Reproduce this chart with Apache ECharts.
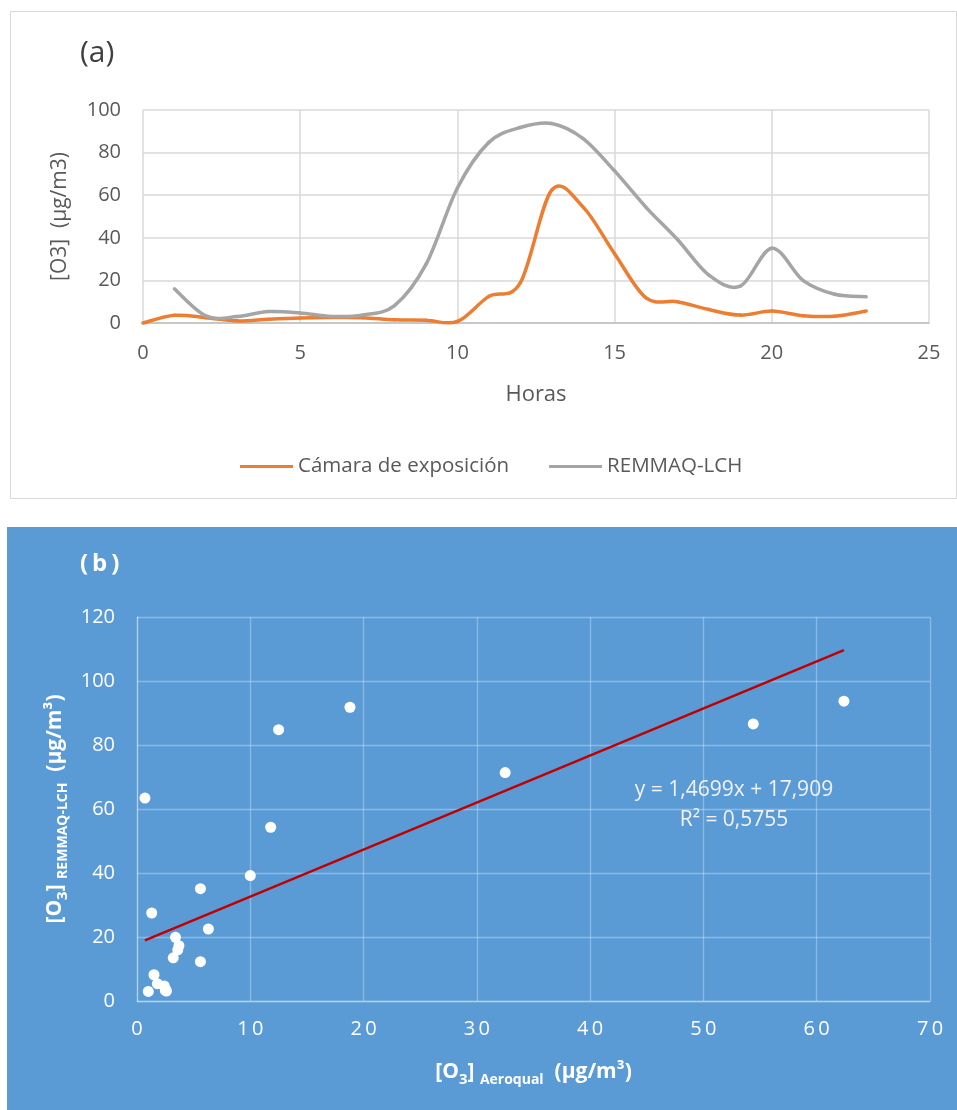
<!DOCTYPE html>
<html lang="es">
<head>
<meta charset="UTF-8">
<title>O3</title>
<script src="https://cdn.jsdelivr.net/npm/echarts@6/dist/echarts.min.js"></script>
<style>
  body{margin:0;background:#fff;}
  #panelA{position:absolute;left:10px;top:11px;width:947px;height:488px;}
  #panelB{position:absolute;left:7px;top:527px;width:950px;height:583px;background:#5b9bd5;}
</style>
</head>
<body>
<div id="panelA"></div>
<div id="panelB"></div>
<script>
// horas del dia y concentraciones de O3 (ug/m3)
var horas  = [0, 1, 2, 3, 4, 5, 6, 7, 8, 9, 10, 11, 12, 13, 14, 15, 16, 17, 18, 19, 20, 21, 22, 23];
var camara = [0, 3.6, 2.5, 1.0, 1.8, 2.4, 2.6, 2.5, 1.5, 1.3, 0.7, 12.5, 18.8, 62.4, 54.4, 32.5, 11.8, 10.0, 6.3, 3.7, 5.6, 3.4, 3.2, 5.6];
var remmaq = [null, 16.0, 3.3, 3.0, 5.4, 4.7, 3.1, 3.8, 8.2, 27.5, 63.4, 84.8, 91.8, 93.7, 86.6, 71.4, 54.3, 39.2, 22.5, 17.3, 35.1, 19.9, 13.5, 12.3];
var nombres = ['Cámara de exposición', 'REMMAQ-LCH'];
// recta de regresion (b)
var pendiente = 1.4699, intercepto = 17.909;
var ecuacion = ['y = 1,4699x + 17,909', 'R² = 0,5755'];

var font = 'Open Sans';
var gris = '#595959';

function pares(xs, ys) {
  var out = [];
  for (var i = 0; i < xs.length; i++) {
    if (xs[i] != null && ys[i] != null) out.push([xs[i], ys[i]]);
  }
  return out;
}

// linea suavizada tipo Excel: cada punto dibuja el tramo que llega a el
function curva(pts, color) {
  return function (params, api) {
    var i = params.dataIndex;
    if (i === 0) return null;
    function c(k) {
      k = Math.max(0, Math.min(pts.length - 1, k));
      return api.coord(pts[k]);
    }
    var p0 = c(i - 2), p1 = c(i - 1), p2 = c(i), p3 = c(i + 1);
    return {
      type: 'bezierCurve',
      shape: {
        x1: p1[0], y1: p1[1], x2: p2[0], y2: p2[1],
        cpx1: p1[0] + (p2[0] - p0[0]) / 6, cpy1: p1[1] + (p2[1] - p0[1]) / 6,
        cpx2: p2[0] - (p3[0] - p1[0]) / 6, cpy2: p2[1] - (p3[1] - p1[1]) / 6
      },
      style: { stroke: color, lineWidth: 3.5, fill: 'none', lineCap: 'round' }
    };
  };
}

var serieCamara = pares(horas, camara);
var serieRemmaq = pares(horas, remmaq);

// ---------- (a) ----------
var chartA = echarts.init(document.getElementById('panelA'));
chartA.setOption({
  animation: false,
  textStyle: { fontFamily: font },
  graphic: [{
    type: 'rect', z: -10, silent: true,
    shape: { x: 0.5, y: 0.5, width: 946, height: 487 },
    style: { fill: '#fff', stroke: '#d9d9d9', lineWidth: 1 }
  }],
  title: {
    text: '(a)', left: 65, top: 22,
    textStyle: { fontSize: 30, fontWeight: 'normal', color: '#404040', fontFamily: font }
  },
  legend: {
    left: 225, top: 440, icon: 'rect', itemWidth: 53, itemHeight: 3, itemGap: 40,
    textStyle: { fontSize: 20.5, color: gris, fontFamily: font },
    data: nombres
  },
  grid: { left: 133, top: 99, width: 786, height: 213, outerBoundsMode: 'none' },
  xAxis: {
    type: 'value', min: 0, max: 25, interval: 5,
    name: 'Horas', nameLocation: 'middle', nameGap: 61,
    nameTextStyle: { fontSize: 22, color: gris, fontFamily: font },
    axisLine: { lineStyle: { color: '#bfbfbf', width: 1.5 } },
    axisTick: { show: false },
    axisLabel: { fontSize: 20, color: gris, margin: 20, fontFamily: font },
    splitLine: { lineStyle: { color: '#d9d9d9', width: 1.5 } }
  },
  yAxis: {
    type: 'value', min: 0, max: 100, interval: 20,
    name: '[O3]  (µg/m3)', nameLocation: 'middle', nameGap: 72,
    nameTextStyle: { fontSize: 21, color: gris, fontFamily: font },
    axisLine: { show: false },
    axisTick: { show: false },
    axisLabel: { fontSize: 20, color: gris, margin: 22, fontFamily: font },
    splitLine: { lineStyle: { color: '#d9d9d9', width: 1.5 } }
  },
  series: [{
    name: nombres[0], type: 'custom', data: serieCamara, clip: false,
    encode: { x: 0, y: 1 },
    renderItem: curva(serieCamara, '#ed7d31'),
    itemStyle: { color: '#ed7d31' }
  }, {
    name: nombres[1], type: 'custom', data: serieRemmaq, clip: false,
    encode: { x: 0, y: 1 },
    renderItem: curva(serieRemmaq, '#a5a5a5'),
    itemStyle: { color: '#a5a5a5' }
  }]
});

// ---------- (b) ----------
var puntos = pares(camara, remmaq);
var xs = puntos.map(function (p) { return p[0]; });
var xMin = Math.min.apply(null, xs), xMax = Math.max.apply(null, xs);
var recta = [[xMin, pendiente * xMin + intercepto], [xMax, pendiente * xMax + intercepto]];

function espaciado(v) { return String(v).split('').join('\u2009'); }

var rich = {
  b: { fontSize: 21, fontWeight: 'bold', color: '#fff', fontFamily: font, lineHeight: 30 },
  s: { fontSize: 15, fontWeight: 'bold', color: '#fff', fontFamily: font, lineHeight: 14, verticalAlign: 'bottom' },
  sub: { fontSize: 14, fontWeight: 'bold', color: '#fff', fontFamily: font, lineHeight: 13, verticalAlign: 'bottom' }
};

var chartB = echarts.init(document.getElementById('panelB'));
chartB.setOption({
  animation: false,
  textStyle: { fontFamily: font },
  title: {
    text: '(\u2009b\u2009)', left: 68, top: 20,
    textStyle: { fontSize: 24, fontWeight: 'bold', color: '#fff', fontFamily: font }
  },
  graphic: [{
    type: 'text', x: 727, y: 278, silent: true,
    style: {
      text: ecuacion.join('\n'), align: 'center', verticalAlign: 'middle', lineHeight: 30,
      fontSize: 21, fill: '#f2f2f2', fontFamily: font
    }
  }],
  grid: { left: 130, top: 90, width: 793, height: 384, outerBoundsMode: 'none' },
  xAxis: {
    type: 'value', min: 0, max: 70, interval: 10,
    name: '{b|[O}{s|3}{b|] }{sub|Aeroqual}{b|  (µg/m³)}',
    nameLocation: 'middle', nameGap: 56,
    nameTextStyle: { rich: rich },
    axisLine: { lineStyle: { color: 'rgba(255,255,255,0.35)', width: 1.3 } },
    axisTick: { show: false },
    axisLabel: { fontSize: 20, color: '#fff', margin: 18, fontFamily: font, formatter: espaciado },
    splitLine: { lineStyle: { color: 'rgba(255,255,255,0.3)', width: 1.3 } }
  },
  yAxis: {
    type: 'value', min: 0, max: 120, interval: 20,
    name: '{b|[O}{s|3}{b|] }{sub|REMMAQ-LCH}{b|  (µg/m³)}',
    nameLocation: 'middle', nameGap: 64,
    nameTextStyle: { rich: rich },
    axisLine: { show: true, lineStyle: { color: 'rgba(255,255,255,0.35)', width: 1.3 } },
    axisTick: { show: false },
    axisLabel: { fontSize: 20, color: '#fff', margin: 22, fontFamily: font },
    splitLine: { lineStyle: { color: 'rgba(255,255,255,0.3)', width: 1.3 } }
  },
  series: [{
    type: 'line', data: recta, showSymbol: false, z: 2,
    lineStyle: { color: '#c00000', width: 2.5 }
  }, {
    type: 'scatter', data: puntos, symbolSize: 11, z: 3,
    itemStyle: { color: '#fff', opacity: 1 }
  }]
});
</script>
</body>
</html>
